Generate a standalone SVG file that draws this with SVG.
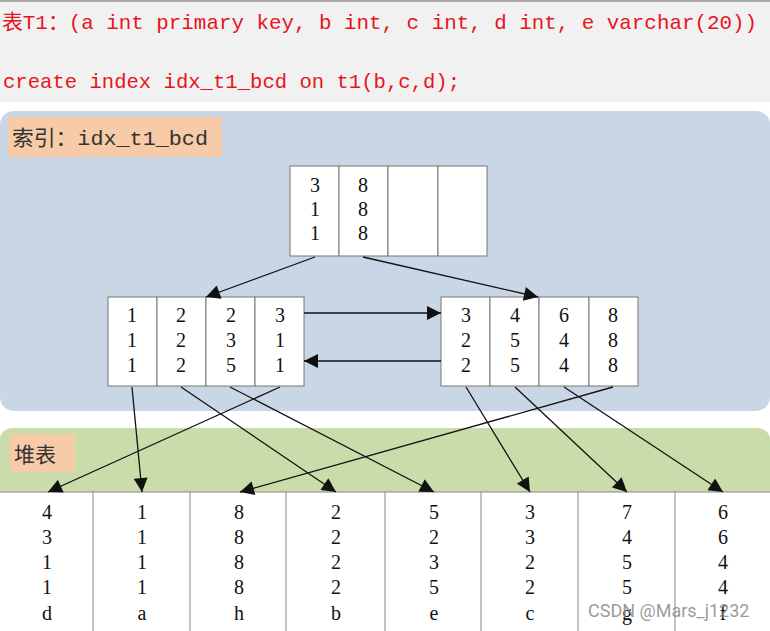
<svg xmlns="http://www.w3.org/2000/svg" width="770" height="631" viewBox="0 0 770 631">
<defs>
<style>
.code{font-family:"Liberation Mono","Noto Sans CJK SC",monospace;font-size:21px;fill:#e8141c}
.lbl{font-family:"Liberation Mono","Noto Sans CJK SC",monospace;font-size:21px;fill:#333}
.num{font-family:"Liberation Serif","Noto Sans CJK SC",serif;font-size:20px;fill:#111;text-anchor:middle}
.cell{fill:#fff;stroke:#777;stroke-width:1}
.edge{stroke:#111;stroke-width:1.3;fill:none;marker-end:url(#ah)}
.grid{stroke:#888;stroke-width:1}
</style>
<marker id="ah" viewBox="0 0 10 10" refX="10" refY="5" markerWidth="16" markerHeight="14" markerUnits="userSpaceOnUse" orient="auto">
<path d="M0,0 L10,5 L0,10 z" fill="#111"/>
</marker>
</defs>
<rect width="770" height="631" fill="#fff"/>
<g id="header">
<rect x="0" y="0" width="770" height="102" fill="#f1f1f1"/>
<line x1="0" y1="1" x2="770" y2="1" stroke="#aaa" stroke-width="2"/>
<text class="code" x="2" y="29" textLength="755" lengthAdjust="spacingAndGlyphs">表T1：(a int primary key, b int, c int, d int, e varchar(20))</text>
<text class="code" x="3" y="88" textLength="457" lengthAdjust="spacingAndGlyphs">create index idx_t1_bcd on t1(b,c,d);</text>
</g>
<g id="index-panel">
<rect x="0" y="111" width="770" height="300" rx="14" fill="#c9d6e6"/>
<rect x="8" y="117" width="214" height="40" fill="#f8cba8"/>
<text class="lbl" x="12" y="145" textLength="196" lengthAdjust="spacingAndGlyphs">索引：idx_t1_bcd</text>
</g>
<g id="heap-panel">
<rect x="0" y="428" width="770" height="80" rx="12" fill="#cbdcab"/>
<rect x="10" y="434" width="65" height="38" fill="#f8cba8"/>
<text class="lbl" x="14" y="462">堆表</text>
</g>
<g id="root">
<rect class="cell" x="290" y="166" width="49" height="90"/>
<rect class="cell" x="339" y="166" width="49" height="90"/>
<rect class="cell" x="388" y="166" width="50" height="90"/>
<rect class="cell" x="438" y="166" width="49" height="90"/>
<text class="num" x="315" y="192">3</text><text class="num" x="315" y="216">1</text><text class="num" x="315" y="240">1</text>
<text class="num" x="363" y="192">8</text><text class="num" x="363" y="216">8</text><text class="num" x="363" y="240">8</text>
</g>
<g id="leaf-left">
<rect class="cell" x="108" y="297" width="49" height="89"/>
<rect class="cell" x="157" y="297" width="49" height="89"/>
<rect class="cell" x="206" y="297" width="49" height="89"/>
<rect class="cell" x="255" y="297" width="49" height="89"/>
<text class="num" x="132" y="322">1</text><text class="num" x="132" y="347">1</text><text class="num" x="132" y="372">1</text>
<text class="num" x="181" y="322">2</text><text class="num" x="181" y="347">2</text><text class="num" x="181" y="372">2</text>
<text class="num" x="231" y="322">2</text><text class="num" x="231" y="347">3</text><text class="num" x="231" y="372">5</text>
<text class="num" x="280" y="322">3</text><text class="num" x="280" y="347">1</text><text class="num" x="280" y="372">1</text>
</g>
<g id="leaf-right">
<rect class="cell" x="441" y="297" width="49" height="89"/>
<rect class="cell" x="490" y="297" width="49" height="89"/>
<rect class="cell" x="539" y="297" width="50" height="89"/>
<rect class="cell" x="589" y="297" width="49" height="89"/>
<text class="num" x="466" y="322">3</text><text class="num" x="466" y="347">2</text><text class="num" x="466" y="372">2</text>
<text class="num" x="515" y="322">4</text><text class="num" x="515" y="347">5</text><text class="num" x="515" y="372">5</text>
<text class="num" x="564" y="322">6</text><text class="num" x="564" y="347">4</text><text class="num" x="564" y="372">4</text>
<text class="num" x="613" y="322">8</text><text class="num" x="613" y="347">8</text><text class="num" x="613" y="372">8</text>
</g>
<g id="heap-table">
<rect x="0" y="492" width="770" height="139" fill="#fff"/>
<line class="grid" x1="0" y1="492" x2="770" y2="492"/>
<line class="grid" x1="93" y1="492" x2="93" y2="631"/>
<line class="grid" x1="190" y1="492" x2="190" y2="631"/>
<line class="grid" x1="286" y1="492" x2="286" y2="631"/>
<line class="grid" x1="385" y1="492" x2="385" y2="631"/>
<line class="grid" x1="481" y1="492" x2="481" y2="631"/>
<line class="grid" x1="578" y1="492" x2="578" y2="631"/>
<line class="grid" x1="675" y1="492" x2="675" y2="631"/>
<g>
<text class="num" x="47" y="519">4</text><text class="num" x="47" y="544">3</text><text class="num" x="47" y="569">1</text><text class="num" x="47" y="594">1</text><text class="num" x="47" y="620">d</text>
<text class="num" x="142" y="519">1</text><text class="num" x="142" y="544">1</text><text class="num" x="142" y="569">1</text><text class="num" x="142" y="594">1</text><text class="num" x="142" y="620">a</text>
<text class="num" x="239" y="519">8</text><text class="num" x="239" y="544">8</text><text class="num" x="239" y="569">8</text><text class="num" x="239" y="594">8</text><text class="num" x="239" y="620">h</text>
<text class="num" x="336" y="519">2</text><text class="num" x="336" y="544">2</text><text class="num" x="336" y="569">2</text><text class="num" x="336" y="594">2</text><text class="num" x="336" y="620">b</text>
<text class="num" x="434" y="519">5</text><text class="num" x="434" y="544">2</text><text class="num" x="434" y="569">3</text><text class="num" x="434" y="594">5</text><text class="num" x="434" y="620">e</text>
<text class="num" x="530" y="519">3</text><text class="num" x="530" y="544">3</text><text class="num" x="530" y="569">2</text><text class="num" x="530" y="594">2</text><text class="num" x="530" y="620">c</text>
<text class="num" x="627" y="519">7</text><text class="num" x="627" y="544">4</text><text class="num" x="627" y="569">5</text><text class="num" x="627" y="594">5</text><text class="num" x="627" y="620">g</text>
<text class="num" x="723" y="519">6</text><text class="num" x="723" y="544">6</text><text class="num" x="723" y="569">4</text><text class="num" x="723" y="594">4</text><text class="num" x="723" y="620">f</text>
</g>
</g>
<g id="connectors">
<line class="edge" x1="315" y1="257" x2="206" y2="297"/>
<line class="edge" x1="363" y1="257" x2="538" y2="297"/>
<line class="edge" x1="304" y1="313" x2="441" y2="313"/>
<line class="edge" x1="441" y1="361" x2="304" y2="361"/>
<line class="edge" x1="132" y1="387" x2="142" y2="492"/>
<line class="edge" x1="181" y1="387" x2="336" y2="492"/>
<line class="edge" x1="230" y1="387" x2="434" y2="492"/>
<line class="edge" x1="280" y1="387" x2="48" y2="492"/>
<line class="edge" x1="466" y1="387" x2="530" y2="492"/>
<line class="edge" x1="515" y1="387" x2="627" y2="492"/>
<line class="edge" x1="564" y1="387" x2="723" y2="492"/>
<line class="edge" x1="613" y1="387" x2="240" y2="492"/>
</g>
<text x="588" y="617" font-family="Roboto,'Liberation Sans',sans-serif" font-size="18" fill="#888" fill-opacity="0.85">CSDN @Mars_j1232</text>
</svg>
